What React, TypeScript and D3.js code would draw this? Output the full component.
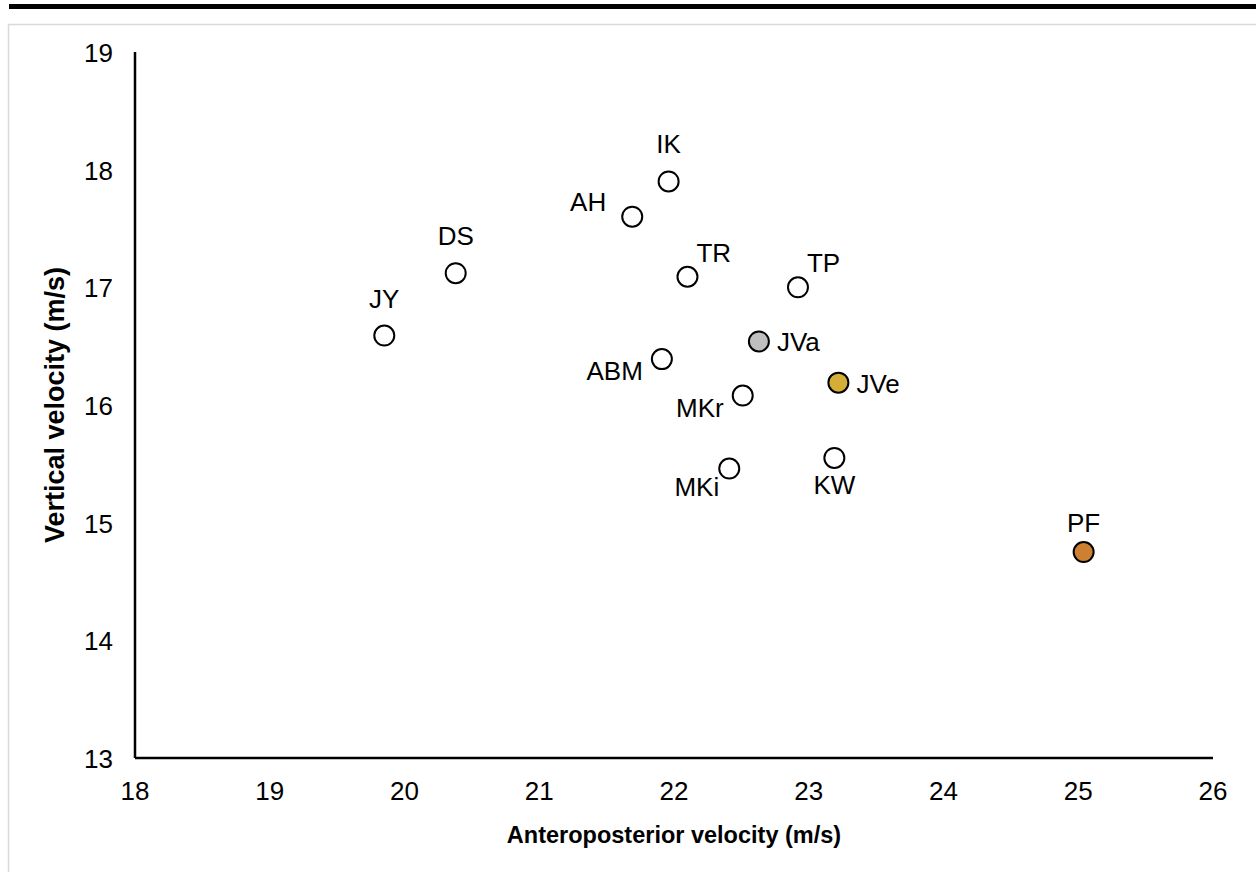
import * as d3 from "d3";
import React from "react";

const names = ["JY", "DS", "AH", "IK", "TR", "TP", "ABM", "JVa", "JVe", "MKr", "MKi", "KW", "PF"];
const apVelocity = [19.85, 20.38, 21.69, 21.96, 22.1, 22.92, 21.91, 22.63, 23.22, 22.51, 22.41, 23.19, 25.04];
const vertVelocity = [16.59, 17.12, 17.6, 17.9, 17.09, 17.0, 16.39, 16.54, 16.19, 16.08, 15.46, 15.55, 14.75];
const fills = ["#fff", "#fff", "#fff", "#fff", "#fff", "#fff", "#fff", "#bfbfbf", "#d4ae36", "#fff", "#fff", "#fff", "#cd7f32"];
// where the label sits relative to its point
const labelPos = ["top", "top", "left", "top", "topright", "topright", "leftlow", "right", "right", "leftlow", "leftbelow", "bottom", "topnear"];

const xTicks = [18, 19, 20, 21, 22, 23, 24, 25, 26];
const yTicks = [13, 14, 15, 16, 17, 18, 19];

const W = 1256, H = 872;
const margin = {left: 135, right: 43, top: 52, bottom: 114};
const font = "'Liberation Sans', Arial, sans-serif";

export default function App() {
    const x = d3.scaleLinear().domain([18, 26]).range([margin.left, W - margin.right]);
    const y = d3.scaleLinear().domain([13, 19]).range([H - margin.bottom, margin.top]);
    const x0 = x(18), y0 = y(13);

    const label = (i: number) => {
        const cx = x(apVelocity[i]), cy = y(vertVelocity[i]);
        const p = labelPos[i];
        let tx = cx, ty = cy, anchor = "middle";
        if (p === "top") { ty = cy - 28; }
        else if (p === "topnear") { ty = cy - 20; }
        else if (p === "bottom") { ty = cy + 36; }
        else if (p === "left") { tx = cx - 26; ty = cy - 6; anchor = "end"; }
        else if (p === "leftlow") { tx = cx - 19; ty = cy + 21; anchor = "end"; }
        else if (p === "leftbelow") { tx = cx - 10; ty = cy + 27; anchor = "end"; }
        else if (p === "right") { tx = cx + 18; ty = cy + 10; anchor = "start"; }
        else if (p === "topright") { tx = cx + 9; ty = cy - 15; anchor = "start"; }
        return <text key={"l" + i} x={tx} y={ty} textAnchor={anchor}>{names[i]}</text>;
    };

    return (
        <svg width={W} height={H} style={{position: "absolute", left: 0, top: 0, background: "#fff"}}
             fontFamily={font}>
            <rect x={9} y={4} width={W - 9} height={5} fill="#000"/>
            <rect x={8.5} y={24.5} width={W} height={H} fill="none" stroke="#d9d9d9" strokeWidth={1.5}/>

            <g fontSize={26} fill="#000">
                {yTicks.map(t => (
                    <text key={"y" + t} x={x0 - 22} y={y(t) + 10} textAnchor="end">{t}</text>
                ))}
                {xTicks.map(t => (
                    <text key={"x" + t} x={x(t)} y={y0 + 42} textAnchor="middle">{t}</text>
                ))}
            </g>

            <line x1={x0} x2={x0} y1={margin.top} y2={y0} stroke="#000" strokeWidth={2.5}/>
            <line x1={x0} x2={W - margin.right} y1={y0} y2={y0} stroke="#000" strokeWidth={2.5}/>

            <g>
                {names.map((n, i) => (
                    <circle key={n} cx={x(apVelocity[i])} cy={y(vertVelocity[i])} r={10}
                            fill={fills[i]} stroke="#000" strokeWidth={2}/>
                ))}
            </g>
            <g fontSize={26} fill="#000">
                {names.map((n, i) => label(i))}
            </g>

            <text x={(x0 + W - margin.right) / 2} y={843} textAnchor="middle" fontSize={23.5}
                  fontWeight="bold">Anteroposterior velocity (m/s)</text>
            <text transform={`translate(64,${(margin.top + y0) / 2}) rotate(-90)`} textAnchor="middle"
                  fontSize={27} fontWeight="bold">Vertical velocity (m/s)</text>
        </svg>
    );
}
